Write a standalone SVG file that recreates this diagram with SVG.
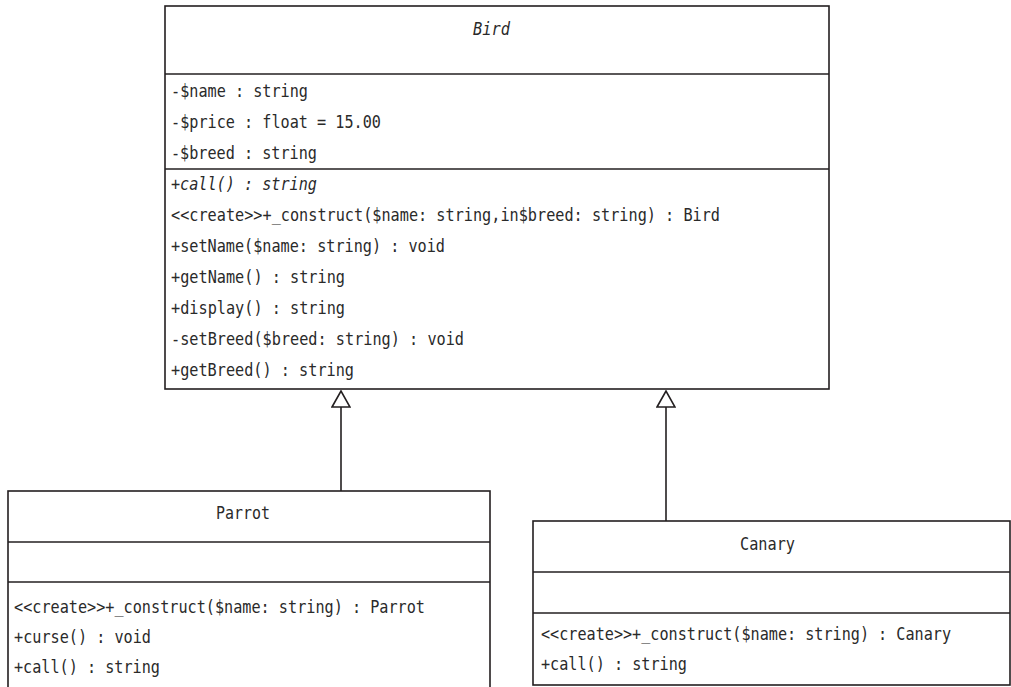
<svg xmlns="http://www.w3.org/2000/svg" width="1011" height="687" viewBox="0 0 1011 687">
<defs>
<style>
.box{fill:#fff;stroke:#231f20;stroke-width:1.6}
.div{stroke:#231f20;stroke-width:1.6}
text{font-family:"DejaVu Sans Mono","Liberation Mono",monospace;font-size:17px;fill:#2a2a2a}
.it{font-style:italic}
.edge{fill:none;stroke:#231f20;stroke-width:1.6}
</style>
<marker id="gen" viewBox="0 0 18 20" refX="17" refY="10" markerWidth="18" markerHeight="20" markerUnits="userSpaceOnUse" orient="auto">
<path d="M1,1 L17,10 L1,19 Z" fill="#fff" stroke="#231f20" stroke-width="1.6"/>
</marker>
</defs>
<rect width="1011" height="687" fill="#fff"/>
<g id="connectors">
<path class="edge" d="M341,491 L341,391" marker-end="url(#gen)"/>
<path class="edge" d="M666,521 L666,391" marker-end="url(#gen)"/>
</g>
<g id="Bird">
<rect class="box" x="165" y="6" width="664" height="383"/>
<line class="div" x1="165" y1="74" x2="829" y2="74"/>
<line class="div" x1="165" y1="169" x2="829" y2="169"/>
<text class="it" x="473" y="35" textLength="37" lengthAdjust="spacingAndGlyphs">Bird</text>
<text x="171" y="97" textLength="137" lengthAdjust="spacingAndGlyphs">-$name : string</text>
<text x="171" y="128" textLength="210" lengthAdjust="spacingAndGlyphs">-$price : float = 15.00</text>
<text x="171" y="159" textLength="146" lengthAdjust="spacingAndGlyphs">-$breed : string</text>
<text class="it" x="171" y="190" textLength="146" lengthAdjust="spacingAndGlyphs">+call() : string</text>
<text x="171" y="221" textLength="549" lengthAdjust="spacingAndGlyphs">&lt;&lt;create&gt;&gt;+_construct($name: string,in$breed: string) : Bird</text>
<text x="171" y="252" textLength="274" lengthAdjust="spacingAndGlyphs">+setName($name: string) : void</text>
<text x="171" y="283" textLength="174" lengthAdjust="spacingAndGlyphs">+getName() : string</text>
<text x="171" y="314" textLength="174" lengthAdjust="spacingAndGlyphs">+display() : string</text>
<text x="171" y="345" textLength="293" lengthAdjust="spacingAndGlyphs">-setBreed($breed: string) : void</text>
<text x="171" y="376" textLength="183" lengthAdjust="spacingAndGlyphs">+getBreed() : string</text>
</g>
<g id="Parrot">
<rect class="box" x="8" y="491" width="482" height="210"/>
<line class="div" x1="8" y1="542" x2="490" y2="542"/>
<line class="div" x1="8" y1="582" x2="490" y2="582"/>
<text x="216" y="519" textLength="54" lengthAdjust="spacingAndGlyphs">Parrot</text>
<text x="14" y="613" textLength="411" lengthAdjust="spacingAndGlyphs">&lt;&lt;create&gt;&gt;+_construct($name: string) : Parrot</text>
<text x="14" y="643" textLength="137" lengthAdjust="spacingAndGlyphs">+curse() : void</text>
<text x="14" y="673" textLength="146" lengthAdjust="spacingAndGlyphs">+call() : string</text>
</g>
<g id="Canary">
<rect class="box" x="533" y="521" width="477" height="164"/>
<line class="div" x1="533" y1="572" x2="1010" y2="572"/>
<line class="div" x1="533" y1="613" x2="1010" y2="613"/>
<text x="740" y="550" textLength="55" lengthAdjust="spacingAndGlyphs">Canary</text>
<text x="541" y="640" textLength="410" lengthAdjust="spacingAndGlyphs">&lt;&lt;create&gt;&gt;+_construct($name: string) : Canary</text>
<text x="541" y="670" textLength="146" lengthAdjust="spacingAndGlyphs">+call() : string</text>
</g>
</svg>
